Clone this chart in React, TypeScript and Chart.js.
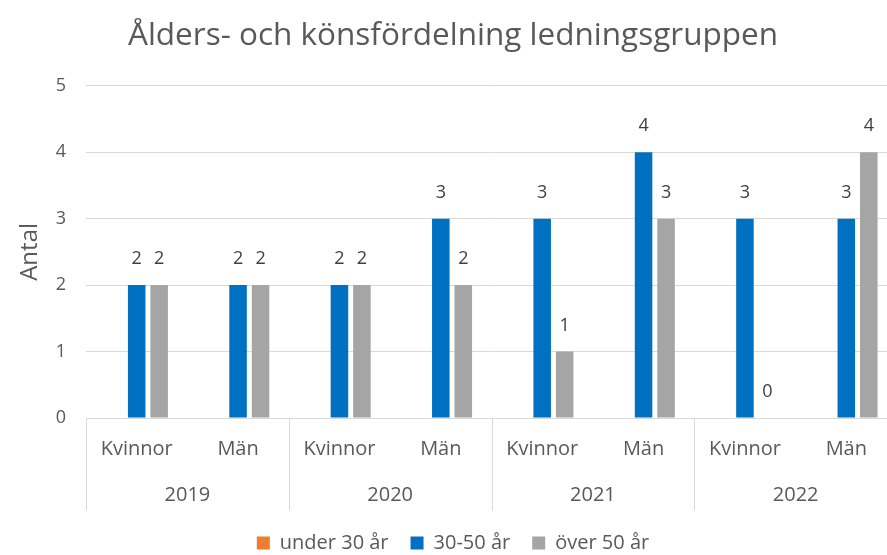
import React, { useEffect, useRef } from "react";
import { Chart, registerables } from "chart.js";

Chart.register(...registerables);

const TITLE = "Ålders- och könsfördelning ledningsgruppen";
const Y_TITLE = "Antal";
const YEARS = ["2019", "2020", "2021", "2022"];
const GENDERS = ["Kvinnor", "Män"];
const CATEGORIES = YEARS.flatMap((y) => GENDERS.map((g) => `${g} ${y}`));
const UNDER_30: (number | null)[] = [null, null, null, null, null, null, null, null];
const MID_30_50: (number | null)[] = [2, 2, 2, 3, 3, 4, 3, 3];
const OVER_50: (number | null)[] = [2, 2, 2, 2, 1, 3, 0, 4];
const SERIES_NAMES = ["under 30 år", "30-50 år", "över 50 år"];
const COLORS = ["#ED7D31", "#0070C0", "#A5A5A5"];

const FONT = "'Open Sans', 'DejaVu Sans', sans-serif";
const TEXT = "#595959";
const GRID = "#D9D9D9";

const AXIS_H = 93;
const PAD_LEFT = 9;

const labelsPlugin = {
  id: "valueLabels",
  afterDatasetsDraw(chart: any) {
    const ctx = chart.ctx;
    ctx.save();
    ctx.font = `18px ${FONT}`;
    ctx.fillStyle = "#404040";
    ctx.textAlign = "center";
    ctx.textBaseline = "alphabetic";
    chart.data.datasets.forEach((ds: any, di: number) => {
      const meta = chart.getDatasetMeta(di);
      meta.data.forEach((el: any, i: number) => {
        const v = ds.data[i];
        if (v === null || v === undefined) return;
        ctx.fillText(String(v), el.x, el.y - 21);
      });
    });
    ctx.restore();
  },
};

const multiAxisPlugin = {
  id: "multiAxis",
  afterDraw(chart: any) {
    const ctx = chart.ctx;
    const xs = chart.scales.x;
    const area = chart.chartArea;
    const n = CATEGORIES.length;
    const cw = (xs.right - xs.left) / n;
    ctx.save();
    ctx.strokeStyle = GRID;
    ctx.lineWidth = 1;
    for (let k = 0; k <= YEARS.length; k++) {
      const x = Math.round(xs.left + k * 2 * cw) + 0.5;
      ctx.beginPath();
      ctx.moveTo(x, area.bottom);
      ctx.lineTo(x, area.bottom + AXIS_H);
      ctx.stroke();
    }
    ctx.font = `20px ${FONT}`;
    ctx.fillStyle = TEXT;
    ctx.textAlign = "center";
    ctx.textBaseline = "middle";
    for (let i = 0; i < n; i++) {
      const x = xs.getPixelForValue(i);
      ctx.fillText(GENDERS[i % 2], x, area.bottom + 31);
    }
    YEARS.forEach((y, k) => {
      const x = (xs.getPixelForValue(2 * k) + xs.getPixelForValue(2 * k + 1)) / 2;
      ctx.fillText(y, x, area.bottom + 77);
    });
    ctx.restore();
  },
};

export default function App() {
  const ref = useRef<HTMLCanvasElement | null>(null);
  useEffect(() => {
    if (!ref.current) return;
    const chart = new Chart(ref.current, {
      type: "bar",
      data: {
        labels: CATEGORIES,
        datasets: [UNDER_30, MID_30_50, OVER_50].map((d, i) => ({
          label: SERIES_NAMES[i],
          data: d,
          backgroundColor: COLORS[i],
          borderWidth: 0,
          categoryPercentage: 0.665,
          barPercentage: 0.78,
        })),
      },
      options: {
        animation: false,
        responsive: false,
        layout: { padding: { left: PAD_LEFT, right: 0, top: 0, bottom: 17 } },
        plugins: {
          title: {
            display: true,
            text: TITLE,
            color: TEXT,
            font: { family: FONT, size: 31.5, weight: "normal" },
            padding: { top: 17, bottom: 31 },
          },
          legend: {
            position: "bottom",
            labels: {
              color: TEXT,
              font: { family: FONT, size: 20 },
              boxWidth: 13,
              boxHeight: 13,
              padding: 22,
            },
          },
          tooltip: { enabled: false },
        },
        scales: {
          x: {
            ticks: { display: false },
            grid: { display: false },
            border: { display: false },
            afterFit: (s: any) => {
              s.height = AXIS_H;
            },
          },
          y: {
            min: 0,
            max: 5,
            ticks: {
              stepSize: 1,
              color: TEXT,
              font: { family: FONT, size: 18 },
              padding: 20,
            },
            grid: { color: GRID, drawTicks: false },
            border: { display: false },
            title: {
              display: true,
              text: Y_TITLE,
              color: TEXT,
              font: { family: FONT, size: 24 },
              padding: { top: 16 - PAD_LEFT, bottom: 0 },
            },
            afterFit: (s: any) => {
              s.width = 86 - PAD_LEFT;
            },
          },
        },
      },
      plugins: [labelsPlugin, multiAxisPlugin],
    });
    return () => chart.destroy();
  }, []);
  return (
    <div
      style={{
        position: "absolute",
        left: 0,
        top: 0,
        width: 887,
        height: 555,
        overflow: "hidden",
        background: "#fff",
      }}
    >
      <canvas ref={ref} width={897} height={580} style={{ width: 897, height: 580, display: "block" }} />
    </div>
  );
}
